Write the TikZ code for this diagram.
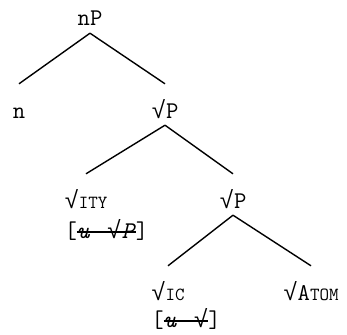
\documentclass[tikz,border=0pt]{standalone}
\usepackage{fontspec}
\newfontfamily\rtfont{Liberation Mono}
\usetikzlibrary{positioning}
\newcommand{\lblsize}{\fontsize{24}{26}\selectfont\ttfamily}
\newcommand{\rt}{{\rtfont √}}
\newcommand{\smcap}[1]{{\fontsize{18.5}{20}\selectfont\addfontfeature{LetterSpace=24}#1}}
\newsavebox{\strkbox}
\newcommand{\strk}[1]{\sbox{\strkbox}{#1}\rlap{\rule[0.22em]{\wd\strkbox}{1.7pt}}\usebox{\strkbox}}

\begin{document}
\begin{tikzpicture}[x=1pt,y=-1pt,
        every node/.style={font=\lblsize,inner sep=0pt},
        cat/.style={text height=34pt,text depth=7pt,anchor=base},
        feat/.style={anchor=base west},
        branch/.style={line width=1.4pt}
      ]
        \useasboundingbox (0,0) rectangle (347,334);
        \node[cat] (nP) at (90,26) {nP};
        \node[cat] (n) at (19,118) {n};
        \node[cat] (rP1) at (165,118) {\rt P};
        \node[cat] (rity) at (86,208) {\rt\smcap{ITY}};
        \node[feat] (rityf) at ([yshift=-30pt]rity.base west) {[\strk{\textit{u}\hspace{17pt}\rt\textit{P}}]};
        \node[cat] (rP2) at (233,208) {\rt P};
        \node[cat] (ric) at (168,300) {\rt\smcap{IC}};
        \node[feat] (ricf) at ([yshift=-27pt]ric.base west) {[\strk{\textit{u}\hspace{17pt}\rt}]};
        \node[cat] (ratom) at (311,300) {\rt A\smcap{TOM}};

        \foreach \a/\b in {nP/n,nP/rP1,rP1/rity,rP1/rP2,rP2/ric,rP2/ratom}
          \draw[branch] (\a.south) -- (\b.north);
      \end{tikzpicture}
\end{document}
